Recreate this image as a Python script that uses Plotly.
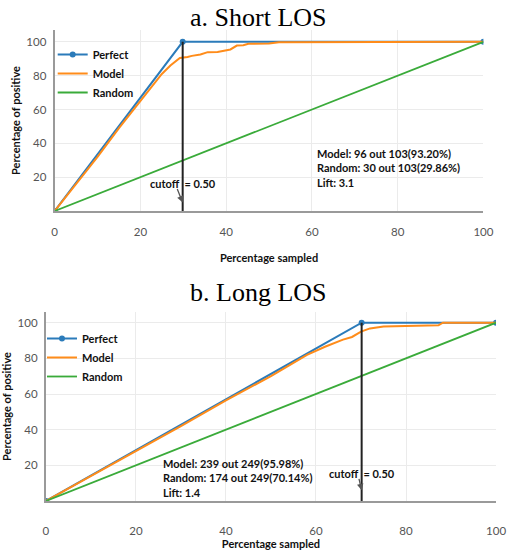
import plotly.graph_objects as go

W, H = 509, 555

# ---- data: a. Short LOS ----
a_perfect_x = [0, 29.86, 100]
a_perfect_y = [0, 100, 100]
a_model_x = [0, 5, 10, 15, 20, 23, 25, 27, 29.2, 31, 32, 34, 35.7, 38, 40.2, 41, 42.5, 44, 45.2, 50, 52.3, 100]
a_model_y = [0, 16, 32, 49, 65, 74, 81, 86, 90.4, 91, 91.7, 92.5, 93.9, 94, 95.3, 95.5, 97.8, 98, 98.8, 99, 99.8, 100]
a_random_x = [0, 100]
a_random_y = [0, 100]
a_cutoff = 29.86
a_stats = ["Model: 96 out 103(93.20%)", "Random: 30 out 103(29.86%)", "Lift: 3.1"]

# ---- data: b. Long LOS ----
b_perfect_x = [0, 70.14, 100]
b_perfect_y = [0, 100, 100]
b_model_x = [0, 10, 20, 30, 40, 50, 58, 62, 66, 68, 70, 72, 75, 80, 87.2, 88.2, 100]
b_model_y = [0, 14, 28, 42, 56.5, 70, 82, 86.5, 90.5, 92, 95, 96.8, 97.9, 98.3, 98.5, 100, 100]
b_random_x = [0, 100]
b_random_y = [0, 100]
b_cutoff = 70.14
b_stats = ["Model: 239 out 249(95.98%)", "Random: 174 out 249(70.14%)", "Lift: 1.4"]

x_ticks = [0, 20, 40, 60, 80, 100]
y_ticks = [20, 40, 60, 80, 100]

BLUE = "#2b7bba"
ORANGE = "#ff8c1a"
GREEN = "#3aab3a"
FONT = "Lato"

fig = go.Figure()

def add_panel(xa, ya, legend, px, py, mx, my, rx, ry, cut):
    fig.add_trace(go.Scatter(x=px, y=py, mode="lines+markers", name="Perfect",
                             line=dict(color=BLUE, width=2), marker=dict(size=6, color=BLUE),
                             xaxis=xa, yaxis=ya, legend=legend))
    fig.add_trace(go.Scatter(x=mx, y=my, mode="lines", name="Model",
                             line=dict(color=ORANGE, width=2),
                             xaxis=xa, yaxis=ya, legend=legend))
    fig.add_trace(go.Scatter(x=rx, y=ry, mode="lines", name="Random",
                             line=dict(color=GREEN, width=1.8),
                             xaxis=xa, yaxis=ya, legend=legend))
    fig.add_trace(go.Scatter(x=[cut, cut], y=[0, 100], mode="lines", showlegend=False,
                             line=dict(color="#222222", width=2),
                             xaxis=xa, yaxis=ya, hoverinfo="skip"))

add_panel("x", "y", "legend", a_perfect_x, a_perfect_y, a_model_x, a_model_y, a_random_x, a_random_y, a_cutoff)
add_panel("x2", "y2", "legend2", b_perfect_x, b_perfect_y, b_model_x, b_model_y, b_random_x, b_random_y, b_cutoff)

axis_common = dict(showgrid=True, gridcolor="#ebebeb", gridwidth=1, zeroline=False,
                   tickfont=dict(family=FONT, size=11.5, color="#555555"), ticks="")
title_font = dict(family=FONT, size=11, color="#111111", weight="bold")

def px2x(p):
    return p / W

def px2y(p):
    return 1 - p / H

leg_font = dict(family=FONT, size=11, color="#111111", weight="bold")

fig.update_layout(
    width=W, height=H,
    margin=dict(l=0, r=0, t=0, b=0),
    paper_bgcolor="white", plot_bgcolor="white",
    showlegend=True,
    xaxis=dict(domain=[px2x(53), px2x(493)], range=[0, 100], tickvals=x_ticks, anchor="y",
               showline=True, linecolor="#9a9a9a", linewidth=2, ticklabelstandoff=9,
               title=dict(text="Percentage sampled", font=title_font, standoff=18), **axis_common),
    yaxis=dict(domain=[px2y(211), px2y(30)], range=[0, 107], tickvals=y_ticks, anchor="x",
               showline=True, linecolor="#9a9a9a", linewidth=2, ticklabelstandoff=4,
               title=dict(text="Percentage of positive", font=title_font, standoff=3), **axis_common),
    xaxis2=dict(domain=[px2x(44), px2x(506)], range=[0, 100], tickvals=x_ticks, anchor="y2",
                showline=True, linecolor="#9a9a9a", linewidth=2, ticklabelstandoff=18,
                title=dict(text="Percentage sampled", font=title_font, standoff=4), **axis_common),
    yaxis2=dict(domain=[px2y(501), px2y(312)], range=[0, 106], tickvals=y_ticks, anchor="x2",
                showline=True, linecolor="#9a9a9a", linewidth=2, ticklabelstandoff=4,
                title=dict(text="Percentage of positive", font=title_font, standoff=6), **axis_common),
    legend=dict(x=px2x(51), y=px2y(40), xanchor="left", yanchor="top",
                bgcolor="rgba(0,0,0,0)", itemwidth=30, tracegroupgap=0, font=leg_font),
    legend2=dict(x=px2x(40), y=px2y(324), xanchor="left", yanchor="top",
                 bgcolor="rgba(0,0,0,0)", itemwidth=30, tracegroupgap=0, font=leg_font),
)

annots = []
# panel titles
annots.append(dict(text="a. Short LOS", x=px2x(262), y=px2y(17), xref="paper", yref="paper",
                   showarrow=False, xanchor="center", yanchor="middle",
                   font=dict(family="Liberation Serif", size=26, color="black")))
annots.append(dict(text="b. Long LOS", x=px2x(262), y=px2y(292), xref="paper", yref="paper",
                   showarrow=False, xanchor="center", yanchor="middle",
                   font=dict(family="Liberation Serif", size=26, color="black")))
stat_font = dict(family=FONT, size=11, color="#111111", weight="bold")
annots.append(dict(text="<br>".join(a_stats), x=60.7, y=25.5, xref="x", yref="y",
                   showarrow=False, xanchor="left", yanchor="middle", align="left", font=stat_font))
annots.append(dict(text="<br>".join(b_stats), x=25.5, y=13, xref="x2", yref="y2",
                   showarrow=False, xanchor="left", yanchor="middle", align="left", font=stat_font))
# cutoff labels and arrows
annots.append(dict(text="cutoff  = 0.50", x=a_cutoff, y=16, xref="x", yref="y",
                   showarrow=False, xanchor="center", yanchor="middle", font=stat_font))
annots.append(dict(text="", x=a_cutoff, y=5, xref="x", yref="y", showarrow=True,
                   ax=-6, ay=-15, arrowhead=2, arrowsize=1, arrowwidth=1.3, arrowcolor="#555555"))
annots.append(dict(text="cutoff  = 0.50", x=b_cutoff, y=15.7, xref="x2", yref="y2",
                   showarrow=False, xanchor="center", yanchor="middle", font=stat_font))
annots.append(dict(text="", x=b_cutoff, y=6, xref="x2", yref="y2", showarrow=True,
                   ax=-3, ay=-13, arrowhead=2, arrowsize=1, arrowwidth=1.3, arrowcolor="#555555"))
fig.update_layout(annotations=annots)

fig.write_html("out.html")
